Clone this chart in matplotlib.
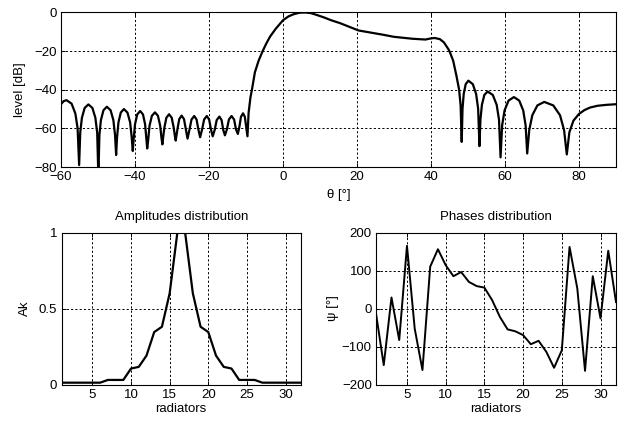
import matplotlib
matplotlib.use("Agg")
import matplotlib.pyplot as plt

# ---- radiation pattern (theta [deg], level [dB]) ----
theta = [-60.0, -59.3, -58.5, -57.14, -56.12, -55.51, -55.1,
         -54.8, -54.35, -53.6, -52.6, -51.52, -50.71, -50.22, -49.9,
         -49.62, -49.21, -48.52, -47.6, -46.6, -45.85, -45.4, -45.1,
         -44.85, -44.47, -43.84, -43.0, -42.04, -41.32, -40.89, -40.6,
         -40.36, -40.0, -39.4, -38.6, -37.84, -37.27, -36.93, -36.7,
         -36.45, -36.07, -35.44, -34.6, -33.8, -33.2, -32.84, -32.6,
         -32.38, -32.06, -31.52, -30.8, -30.08, -29.54, -29.22, -29.0,
         -28.52, -28.04, -27.4, -26.76, -26.28, -25.8,
         -25.26, -24.72, -24.0, -23.36, -22.88, -22.4,
         -21.86, -21.32, -20.6, -19.96, -19.48, -19.0,
         -18.46, -17.92, -17.2, -16.6, -16.15, -15.7,
         -15.16, -14.62, -13.9, -13.22, -12.71, -12.2,
         -11.78, -11.36, -10.8, -10.32, -9.96, -9.6,
         -9.3, -8.8, -8.4, -7.6, -6.6, -5.5, -4.5, -3.5, -2.0, 0.0,
         1.5, 3.0, 4.5, 6.0, 7.5, 9.0, 11.0, 13.0, 15.4, 18.0, 20.4,
         24.0, 27.0, 30.0, 35.0, 38.5, 40.0, 41.0, 42.4, 43.5, 44.7,
         45.1, 46.0, 46.9, 47.6, 48.0, 48.3,
         48.52, 48.84, 49.38, 50.1, 51.3, 52.2, 52.74, 53.1,
         53.36, 53.76, 54.42, 55.3, 56.7, 57.75, 58.38, 58.8,
         59.23, 59.88, 60.96, 62.4, 63.84, 64.92, 65.57, 66.0,
         66.55, 67.38, 68.76, 70.6, 73.04, 74.87, 75.97, 76.7,
         77.4, 78.5, 80.0, 81.5, 83.0, 85.0, 87.5, 90.0]
level = [-47.5, -45.9, -45.4, -47.2, -52.3, -60.0, -79.0,
         -62.2, -54.5, -49.4, -47.6, -49.4, -54.5, -62.2, -85.0,
         -63.4, -55.7, -50.6, -48.8, -50.6, -55.7, -63.4, -73.8,
         -64.6, -56.9, -51.8, -50.0, -51.8, -56.9, -64.6, -71.7,
         -65.6, -57.9, -52.8, -51.0, -52.8, -57.9, -65.6, -70.4,
         -66.3, -58.6, -53.5, -51.7, -53.5, -58.6, -65.0, -68.3,
         -64.5, -59.6, -54.5, -52.7, -54.5, -59.6, -64.0, -66.3,
         -60.3, -55.2, -53.4, -55.2, -60.3, -65.3,
         -60.5, -55.4, -53.6, -55.4, -60.5, -64.6,
         -60.5, -55.4, -53.6, -55.4, -60.5, -64.1,
         -60.8, -55.7, -53.9, -55.7, -60.8, -63.6,
         -60.5, -55.4, -53.6, -55.4, -60.5, -62.9,
         -59.1, -54.0, -52.2, -54.0, -59.1, -64.1,
         -52.0, -44.0, -40.0, -31.0, -25.0, -20.0, -16.0, -12.5, -8.5, -4.0,
         -2.0, -0.8, -0.1, 0.0, -0.3, -1.2, -2.5, -4.0, -5.5, -7.5, -9.3,
         -10.5, -11.5, -12.6, -13.6, -14.0, -13.4, -13.2, -13.8, -15.5, -19.0,
         -20.5, -25.0, -33.0, -40.0, -48.0, -67.0,
         -49.9, -42.2, -37.1, -35.3, -37.1, -42.2, -49.9, -69.2,
         -55.5, -47.8, -42.7, -40.9, -42.7, -47.8, -55.5, -75.0,
         -58.4, -50.7, -45.6, -43.8, -45.6, -50.7, -58.4, -73.0,
         -60.9, -53.2, -48.1, -46.3, -48.1, -53.2, -60.9, -73.5,
         -62.0, -56.0, -52.5, -50.5, -49.2, -48.3, -47.8, -47.5]

# ---- excitation of the 32 radiators ----
radiators = list(range(1, 33))
amplitudes = [0.012, 0.012, 0.012, 0.012, 0.012, 0.012, 0.03, 0.03,
              0.03, 0.105, 0.116, 0.19, 0.345, 0.38, 0.6, 1.0,
              1.0, 0.6, 0.38, 0.345, 0.19, 0.116, 0.105, 0.03,
              0.03, 0.03, 0.012, 0.012, 0.012, 0.012, 0.012, 0.012]
phases = [-13, -149, 29, -83, 165, -53, -162, 110,
          156, 114, 85, 96, 70, 59, 55, 22,
          -22, -55, -60, -70, -94, -85, -114, -156,
          -110, 162, 53, -164, 85, -26, 152, 17]

theta_ticks = [-60, -40, -20, 0, 20, 40, 60, 80]
level_ticks = [0, -20, -40, -60, -80]
rad_ticks = [5, 10, 15, 20, 25, 30]
amp_ticks = [0, 0.5, 1]
amp_ticklabels = ["0", "0.5", "1"]
phase_ticks = [-200, -100, 0, 100, 200]

plt.rcParams['font.family'] = ['Liberation Sans', 'DejaVu Sans']
plt.rcParams['font.size'] = 9.5

fig = plt.figure(figsize=(6.19, 4.26), dpi=100)

W, H = 619, 426
def box(l, t, r, b):
    return [l / W, 1 - b / H, (r - l) / W, (b - t) / H]

ax1 = fig.add_axes(box(61, 12.5, 616, 167))
ax2 = fig.add_axes(box(61.5, 232.5, 301, 384.5))
ax3 = fig.add_axes(box(376, 232.5, 616, 384.5))

def style(ax):
    ax.grid(True, color='black', linestyle=(0, (2.2, 2.2)), linewidth=0.7)
    ax.tick_params(direction='in', length=3, width=0.7, top=True, right=True,
                   labelsize=9.5, pad=3, colors='black')
    for s in ax.spines.values():
        s.set_linewidth(0.8)
        s.set_color('black')

ax1.plot(theta, level, color='black', linewidth=1.6)
ax1.set_xlim(-60, 90)
ax1.set_ylim(-80, 0)
ax1.set_xticks(theta_ticks)
ax1.set_yticks(level_ticks)
ax1.set_ylabel('level [dB]', labelpad=6)
ax1.set_xlabel('θ [°]', labelpad=4)
style(ax1)

ax2.plot(radiators, amplitudes, color='black', linewidth=1.6)
ax2.set_xlim(1, 32)
ax2.set_ylim(0, 1)
ax2.set_xticks(rad_ticks)
ax2.set_yticks(amp_ticks)
ax2.set_yticklabels(amp_ticklabels)
ax2.set_ylabel('Ak', labelpad=6)
ax2.set_xlabel('radiators', labelpad=2)
ax2.set_title('Amplitudes distribution', fontsize=9.5, pad=9)
style(ax2)

ax3.plot(radiators, phases, color='black', linewidth=1.4)
ax3.set_xlim(1, 32)
ax3.set_ylim(-200, 200)
ax3.set_xticks(rad_ticks)
ax3.set_yticks(phase_ticks)
ax3.set_ylabel('ψ [°]', labelpad=2)
ax3.set_xlabel('radiators', labelpad=2)
ax3.set_title('Phases distribution', fontsize=9.5, pad=9)
style(ax3)

fig.savefig('out.png', dpi=100)
